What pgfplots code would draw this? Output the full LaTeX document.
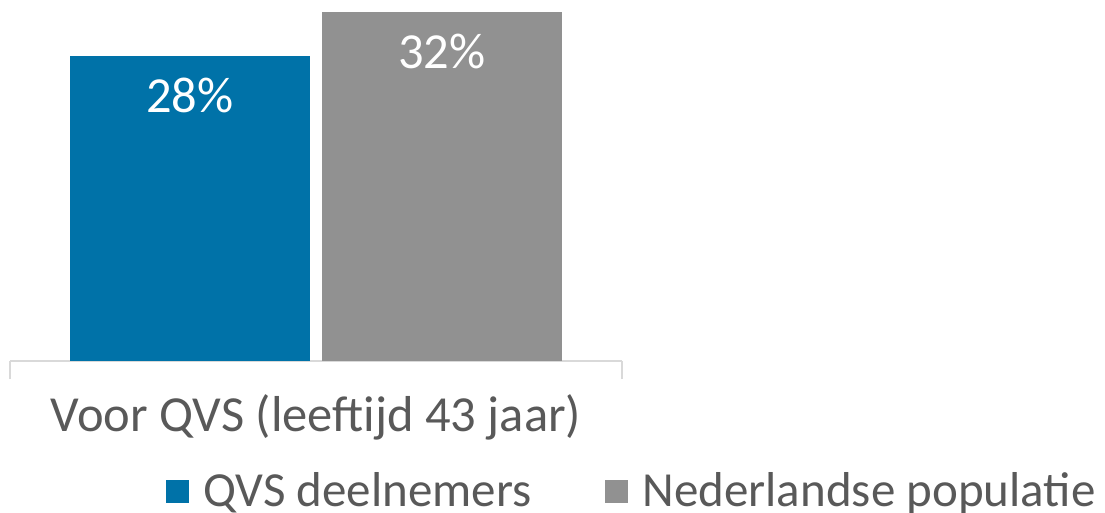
\documentclass[border=0pt]{standalone}
\usepackage{fontspec}
\setmainfont{Carlito}
\usepackage{pgfplots}
\pgfplotsset{compat=1.18}
\definecolor{qvsblue}{HTML}{0072A8}
\definecolor{nlgray}{HTML}{919191}
\definecolor{txt}{HTML}{595959}
\definecolor{axl}{HTML}{D9D9D9}
\begin{document}
\begin{tikzpicture}
\begin{axis}[
  name=ax,
  scale only axis, width=612pt, height=361pt,
  xmin=-0.5, xmax=0.5, ymin=0, ymax=33.1,
  /pgf/number format/assume math mode=true,
  axis y line=none, axis x line*=bottom,
  x axis line style={axl, line width=1.4pt, -},
  xtick={0}, xticklabels={Voor QVS (leeftijd 43 jaar)},
  major tick length=0pt,
  extra x ticks={-0.5,0.5}, extra x tick labels={},
  extra x tick style={major tick length=18pt, tick align=outside, tick style={axl, line width=1.4pt}},
  xticklabel style={font=\fontsize{50.5}{54}\selectfont, text=txt, anchor=north, inner sep=0pt, yshift=-33pt},
  ybar, bar width=240pt,
  nodes near coords={\pgfmathprintnumber{\pgfplotspointmeta}\%},
  every node near coord/.append style={text=white, font=\fontsize{50.5}{54}\selectfont, anchor=north, inner sep=0pt, yshift=-22pt},
  legend columns=2,
  legend style={at={(rel axis cs:0.25,-0.357)}, anchor=west, draw=none, fill=none,
    font=\fontsize{49}{52}\selectfont, text=txt,
    nodes={inner sep=0pt},
    /tikz/every odd column/.append style={column sep=14pt},
    /tikz/every even column/.append style={column sep=74pt}},
  legend image code/.code={\fill[#1] (0pt,-13pt) rectangle (23pt,10pt);},
  clip=false,
]
\addplot[fill=qvsblue, draw=none, bar shift=-126pt] coordinates {(0,28)};
\addplot[fill=nlgray, draw=none, bar shift=126pt] coordinates {(0,32)};
\legend{QVS deelnemers, Nederlandse populatie}
\end{axis}
\path (ax.south west) ++(-10pt,-152pt) rectangle ++(1105pt,513pt);
\end{tikzpicture}
\end{document}
